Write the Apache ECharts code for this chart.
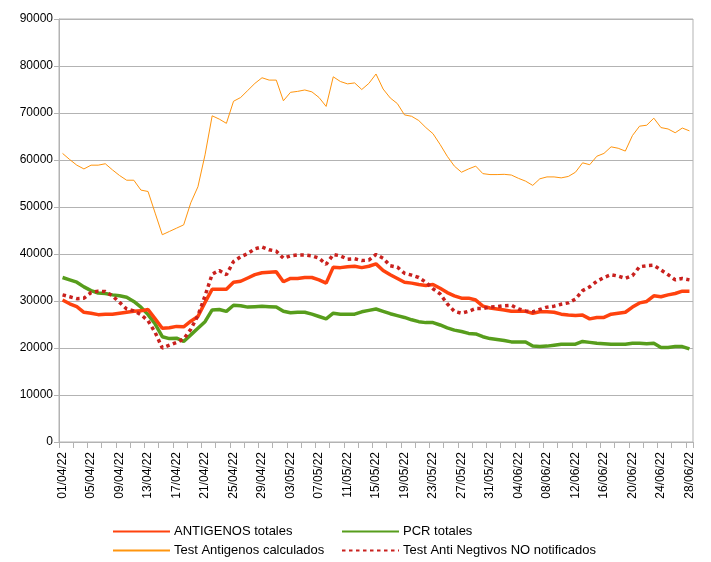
<!DOCTYPE html>
<html>
<head>
<meta charset="utf-8">
<script src="https://cdn.jsdelivr.net/npm/echarts@6/dist/echarts.min.js"></script>
<style>
html,body{margin:0;padding:0;background:#fff;}
#chart{width:711px;height:562px;}
</style>
</head>
<body>
<div id="chart"></div>
<script>
const categories = [
 "01/04/22","02/04/22","03/04/22","04/04/22","05/04/22","06/04/22","07/04/22","08/04/22","09/04/22","10/04/22",
 "11/04/22","12/04/22","13/04/22","14/04/22","15/04/22","16/04/22","17/04/22","18/04/22","19/04/22","20/04/22",
 "21/04/22","22/04/22","23/04/22","24/04/22","25/04/22","26/04/22","27/04/22","28/04/22","29/04/22","30/04/22",
 "01/05/22","02/05/22","03/05/22","04/05/22","05/05/22","06/05/22","07/05/22","08/05/22","09/05/22","10/05/22",
 "11/05/22","12/05/22","13/05/22","14/05/22","15/05/22","16/05/22","17/05/22","18/05/22","19/05/22","20/05/22",
 "21/05/22","22/05/22","23/05/22","24/05/22","25/05/22","26/05/22","27/05/22","28/05/22","29/05/22","30/05/22",
 "31/05/22","01/06/22","02/06/22","03/06/22","04/06/22","05/06/22","06/06/22","07/06/22","08/06/22","09/06/22",
 "10/06/22","11/06/22","12/06/22","13/06/22","14/06/22","15/06/22","16/06/22","17/06/22","18/06/22","19/06/22",
 "20/06/22","21/06/22","22/06/22","23/06/22","24/06/22","25/06/22","26/06/22","27/06/22","28/06/22"
];

const antigenosTotales = [
 30200,29400,28800,27600,27400,27100,27200,27200,27400,27600,
 27800,27900,28200,26200,24200,24300,24600,24500,25700,26700,
 29700,32500,32500,32500,34000,34200,34900,35600,36000,36100,
 36200,34100,34800,34800,35000,35000,34500,33800,37200,37100,
 37300,37400,37100,37400,37900,36500,35600,34800,34000,33800,
 33500,33300,33500,32700,31800,31100,30600,30600,30200,28900,
 28500,28300,28100,27800,27800,27800,27400,27700,27700,27600,
 27200,27000,26900,27000,26200,26500,26500,27200,27400,27600,
 28700,29600,29900,31100,30900,31300,31600,32100,32100
];

const pcrTotales = [
 35000,34500,34000,33000,32200,31700,31600,31300,31100,30800,
 29900,28700,27100,25100,22400,22000,22100,21400,22800,24200,
 25600,28100,28200,27800,29100,29000,28700,28800,28900,28800,
 28700,27800,27500,27600,27600,27200,26700,26200,27400,27200,
 27200,27200,27700,28000,28300,27800,27300,26900,26500,26000,
 25600,25400,25400,24900,24300,23800,23500,23100,23000,22400,
 22000,21800,21600,21300,21300,21300,20400,20300,20400,20600,
 20800,20800,20800,21400,21200,21000,20900,20800,20800,20800,
 21000,21000,20900,21000,20100,20100,20300,20300,19800
];

const testAntigenosCalculados = [
 61400,60100,58900,58100,58900,58900,59200,57900,56700,55700,
 55700,53600,53300,48700,44100,44800,45500,46200,50900,54300,
 61100,69400,68700,67800,72500,73300,74800,76300,77500,77000,
 77000,72600,74400,74600,74900,74500,73300,71400,77700,76700,
 76200,76400,75000,76300,78300,75100,73200,72000,69600,69300,
 68400,66900,65600,63300,60800,58700,57400,58100,58700,57100,
 56900,56900,56950,56800,56100,55500,54600,56000,56400,56400,
 56200,56500,57400,59400,59000,60800,61400,62800,62500,61900,
 65200,67200,67400,68900,66900,66600,65800,66800,66200
];

const testAntiNegativosNoNotificados = [
 31300,30900,30500,30600,31800,32100,32000,31100,29700,28300,
 27900,27100,25800,23300,20000,20600,21200,21900,24000,26900,
 31100,35700,36500,35600,38400,39400,40100,41100,41500,40900,
 40600,39100,39600,39800,39800,39600,39100,37800,39900,39600,
 38900,39000,38600,38700,39900,39100,37500,37200,35900,35500,
 35000,34000,32600,31500,29400,27800,27400,27800,28400,28400,
 28700,28800,29000,29100,28300,27900,27700,28200,28700,28900,
 29300,29600,30400,32200,33000,34200,35000,35600,35300,34800,
 35400,37300,37500,37600,36600,35600,34500,34800,34500
];

const seriesNames = ["ANTIGENOS totales","PCR totales","Test Antigenos calculados","Test Anti Negtivos NO notificados"];

const font = "'Liberation Sans', Arial, sans-serif";
const chart = echarts.init(document.getElementById('chart'), null, {renderer:'canvas'});

function legendAt(name, left, top){
  return {
    data:[name], left:left, top:top, orient:'horizontal',
    itemWidth:57, itemHeight:12, itemGap:0, padding:0,
    itemStyle:{opacity:0},
    textStyle:{fontFamily:font, fontSize:13, color:'#000', padding:[0,0,0,-1]}
  };
}

chart.setOption({
  animation:false,
  backgroundColor:'#fff',
  grid:{left:59, right:18, top:19, bottom:120, show:true, borderColor:'#b3b3b3', borderWidth:1, backgroundColor:'transparent'},
  legend:[
    legendAt(seriesNames[0], 112, 525),
    legendAt(seriesNames[1], 341, 525),
    legendAt(seriesNames[2], 112, 544),
    legendAt(seriesNames[3], 341, 544)
  ],
  xAxis:{
    type:'category', data:categories, boundaryGap:true,
    axisLine:{lineStyle:{color:'#b3b3b3'}},
    axisTick:{show:true, interval:1, length:6, lineStyle:{color:'#b3b3b3'}},
    axisLabel:{interval:3, rotate:90, fontFamily:font, fontSize:12, color:'#000', margin:10}
  },
  yAxis:{
    type:'value', min:0, max:90000, interval:10000,
    axisLine:{show:true, lineStyle:{color:'#b3b3b3'}},
    axisTick:{show:true, length:5, lineStyle:{color:'#b3b3b3'}},
    axisLabel:{fontFamily:font, fontSize:12, color:'#000', margin:6, formatter:function(v){return String(v);}},
    splitLine:{lineStyle:{color:'#b3b3b3'}}
  },
  series:[
    {name:seriesNames[0], type:'line', data:antigenosTotales, symbol:'none', z:3,
     lineStyle:{color:'#ff420e', width:3.5}, itemStyle:{color:'#ff420e'}},
    {name:seriesNames[1], type:'line', data:pcrTotales, symbol:'none', z:2,
     lineStyle:{color:'#579d1c', width:3.5}, itemStyle:{color:'#579d1c'}},
    {name:seriesNames[2], type:'line', data:testAntigenosCalculados, symbol:'none', z:2,
     lineStyle:{color:'#ff950e', width:1}, itemStyle:{color:'#ff950e'}},
    {name:seriesNames[3], type:'line', data:testAntiNegativosNoNotificados, symbol:'none', z:4,
     lineStyle:{color:'#c9211e', width:3.5, type:[3.5,3.5]}, itemStyle:{color:'#c9211e'}}
  ]
});
</script>
</body>
</html>
